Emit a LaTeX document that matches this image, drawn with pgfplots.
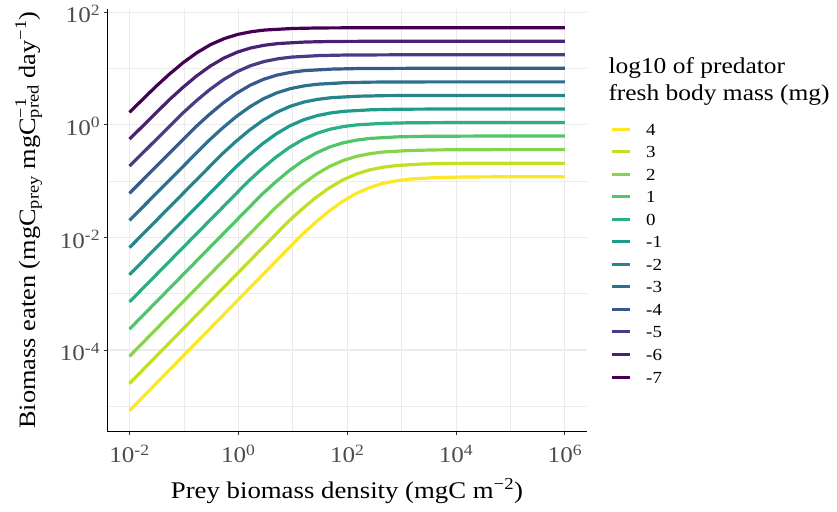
\documentclass[border=0pt]{standalone}
\usepackage{fontspec}
\setmainfont{Liberation Serif}[FakeStretch=1.12]
\usepackage{pgfplots}
\pgfplotsset{compat=1.18}
\definecolor{v1}{HTML}{440154}
\definecolor{v2}{HTML}{482173}
\definecolor{v3}{HTML}{433E85}
\definecolor{v4}{HTML}{38598C}
\definecolor{v5}{HTML}{2D708E}
\definecolor{v6}{HTML}{25858E}
\definecolor{v7}{HTML}{1E9B8A}
\definecolor{v8}{HTML}{2BB07F}
\definecolor{v9}{HTML}{51C56A}
\definecolor{v10}{HTML}{85D54A}
\definecolor{v11}{HTML}{C2DF23}
\definecolor{v12}{HTML}{FDE725}
\definecolor{gridc}{HTML}{EBEBEB}
\definecolor{tickc}{HTML}{4D4D4D}
\definecolor{tickm}{HTML}{333333}
\begin{document}
\begin{tikzpicture}
\useasboundingbox (0,0) rectangle (837bp,512bp);
\begin{axis}[
  at={(107.7bp,80.3bp)}, anchor=south west,
  scale only axis, width=479bp, height=422.4bp,
  xmin=-2.4, xmax=6.4, ymin=-5.45, ymax=2.05,
  axis x line*=bottom, axis y line*=left,
  axis line style={-, black, line width=1.1bp},
  xtick={-2,0,2,4,6},
  xticklabels={10\textsuperscript{-2},10\textsuperscript{0},10\textsuperscript{2},10\textsuperscript{4},10\textsuperscript{6}},
  ytick={-4,-2,0,2},
  yticklabels={10\textsuperscript{-4},10\textsuperscript{-2},10\textsuperscript{0},10\textsuperscript{2}},
  minor xtick={-1,1,3,5}, minor ytick={-5,-3,-1,1},
  grid=both,
  major grid style={gridc, line width=1.1bp},
  minor grid style={gridc, line width=0.6bp},
  tick align=outside, major tick length=3.5bp, minor tick length=0pt,
  tick style={tickm, line width=1bp},
  ticklabel style={font=\fontsize{22.5}{22.5}\selectfont, text=tickc},
  xticklabel style={anchor=base, inner sep=0pt, yshift=-27.5bp},
  yticklabel style={anchor=base east, inner sep=0pt, xshift=-3.9bp, yshift=-10.7bp},
  no markers,
  every axis plot/.append style={line width=3.2bp, line join=round},
  legend style={at={(1.0501,0.7308)}, anchor=north west, draw=none, fill=none,
    inner sep=0pt, outer sep=0pt, row sep=10.55bp, column sep=14.5bp,
    font=\fontsize{17}{17}\selectfont,
    nodes={inner sep=0pt, text height=12bp, text depth=0pt}},
  legend cell align=left,
  legend image code/.code={\draw[line width=3bp] (0bp,0bp) -- (18bp,0bp);},
]
\addplot[v12] coordinates {(-2,-5.078) (1.156,-1.964) (1.406,-1.744) (1.656,-1.542) (1.906,-1.367) (2.156,-1.224) (2.406,-1.117) (2.656,-1.042) (2.906,-0.994) (3.156,-0.964) (3.656,-0.937) (4.156,-0.927) (5.156,-0.923) (6,-0.923)};
\addlegendentry{4}
\addplot[v11] coordinates {(-2,-4.595) (0.913,-1.723) (1.163,-1.503) (1.413,-1.301) (1.663,-1.126) (1.913,-0.983) (2.163,-0.876) (2.413,-0.801) (2.663,-0.753) (2.913,-0.723) (3.413,-0.696) (3.913,-0.686) (4.913,-0.682) (6,-0.682)};
\addlegendentry{3}
\addplot[v10] coordinates {(-2,-4.112) (0.671,-1.483) (0.921,-1.263) (1.171,-1.061) (1.421,-0.886) (1.671,-0.743) (1.921,-0.636) (2.171,-0.561) (2.421,-0.513) (2.671,-0.483) (3.171,-0.456) (3.671,-0.446) (4.671,-0.442) (6,-0.442)};
\addlegendentry{2}
\addplot[v9] coordinates {(-2,-3.629) (0.428,-1.242) (0.678,-1.022) (0.928,-0.820) (1.178,-0.645) (1.428,-0.502) (1.678,-0.395) (1.928,-0.320) (2.178,-0.272) (2.428,-0.242) (2.928,-0.215) (3.428,-0.205) (4.428,-0.201) (6,-0.201)};
\addlegendentry{1}
\addplot[v8] coordinates {(-2,-3.146) (0.186,-1.001) (0.436,-0.781) (0.686,-0.579) (0.936,-0.404) (1.186,-0.261) (1.436,-0.154) (1.686,-0.079) (1.936,-0.031) (2.186,-0.001) (2.686,0.026) (3.186,0.036) (4.186,0.040) (6,0.040)};
\addlegendentry{0}
\addplot[v7] coordinates {(-2,-2.663) (-0.057,-0.761) (0.193,-0.541) (0.443,-0.339) (0.693,-0.164) (0.943,-0.021) (1.193,0.086) (1.443,0.161) (1.693,0.209) (1.943,0.239) (2.443,0.266) (2.943,0.276) (3.943,0.280) (6,0.280)};
\addlegendentry{-1}
\addplot[v6] coordinates {(-2,-2.181) (-0.299,-0.520) (-0.049,-0.300) (0.201,-0.098) (0.451,0.077) (0.701,0.220) (0.951,0.327) (1.201,0.402) (1.451,0.450) (1.701,0.480) (2.201,0.507) (2.701,0.517) (3.701,0.521) (6,0.521)};
\addlegendentry{-2}
\addplot[v5] coordinates {(-2,-1.698) (-0.542,-0.280) (-0.292,-0.060) (-0.042,0.142) (0.208,0.317) (0.458,0.460) (0.708,0.567) (0.958,0.642) (1.208,0.690) (1.458,0.720) (1.958,0.747) (2.458,0.757) (3.458,0.761) (6,0.761)};
\addlegendentry{-3}
\addplot[v4] coordinates {(-2,-1.217) (-0.784,-0.039) (-0.534,0.181) (-0.284,0.383) (-0.034,0.558) (0.216,0.701) (0.466,0.808) (0.716,0.883) (0.966,0.931) (1.216,0.961) (1.716,0.988) (2.216,0.998) (3.216,1.002) (6,1.002)};
\addlegendentry{-4}
\addplot[v3] coordinates {(-2,-0.736) (-1.027,0.201) (-0.777,0.421) (-0.527,0.623) (-0.277,0.798) (-0.027,0.941) (0.223,1.048) (0.473,1.123) (0.723,1.171) (0.973,1.201) (1.473,1.228) (1.973,1.238) (2.973,1.242) (6,1.242)};
\addlegendentry{-5}
\addplot[v2] coordinates {(-2,-0.256) (-1.270,0.442) (-1.020,0.662) (-0.770,0.864) (-0.520,1.039) (-0.270,1.182) (-0.020,1.289) (0.230,1.364) (0.480,1.412) (0.730,1.442) (1.230,1.469) (1.730,1.479) (2.730,1.483) (6,1.483)};
\addlegendentry{-6}
\addplot[v1] coordinates {(-2,0.221) (-1.512,0.682) (-1.262,0.902) (-1.012,1.104) (-0.762,1.279) (-0.512,1.422) (-0.262,1.529) (-0.012,1.604) (0.238,1.652) (0.488,1.682) (0.988,1.709) (1.488,1.719) (2.488,1.723) (6,1.723)};
\addlegendentry{-7}
\end{axis}
\node[rotate=90, anchor=base, font=\fontsize{23.6}{23.6}\selectfont] at (35bp,292bp)
  {Biomass eaten (mgC\textsubscript{prey} mgC\rlap{\textsuperscript{−1}}\textsubscript{pred} day\textsuperscript{−1})};
\node[anchor=base, font=\fontsize{24}{24}\selectfont] at (347bp,14bp)
  {Prey biomass density (mgC m\textsuperscript{−2})};
\node[anchor=base west, inner sep=0pt, font=\fontsize{22.8}{22.8}\selectfont] at (608.3bp,438.7bp) {log10 of predator};
\node[anchor=base west, inner sep=0pt, font=\fontsize{22.8}{22.8}\selectfont] at (608.3bp,411bp) {fresh body mass (mg)};
\end{tikzpicture}
\end{document}
